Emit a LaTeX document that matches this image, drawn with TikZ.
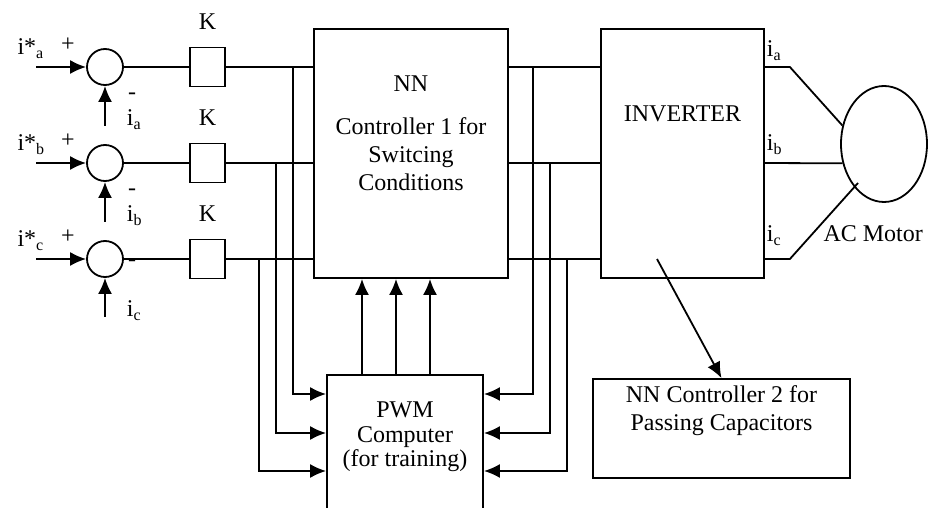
\documentclass[tikz,border=0pt]{standalone}
\usepackage{fontspec}
\setmainfont{Liberation Serif}
\usetikzlibrary{arrows.meta,positioning,shapes.geometric,calc}

\begin{document}
\begin{tikzpicture}[x=0.5pt,y=-0.5pt,
		font=\fontsize{12pt}{13.8pt}\selectfont,
		line width=0.9pt,
		sum/.style={circle,draw,minimum size=18pt,inner sep=0pt},
		gain/.style={rectangle,draw,minimum width=17.5pt,minimum height=19.5pt,inner sep=0pt},
		block/.style={rectangle,draw,inner sep=0pt},
		arr/.style={-{Latex[length=8pt,width=7pt]}}]
		\useasboundingbox (0,0) rectangle (928,508);
		\clip (0,0) rectangle (928,508);
		% summing points and gains
		\node[sum] (sa) at (105,67) {};
		\node[sum] (sb) at (105,163) {};
		\node[sum] (sc) at (105,259) {};
		\node[gain] (ka) at (207.5,67) {};
		\node[gain] (kb) at (207.5,163) {};
		\node[gain] (kc) at (207.5,259) {};
		\node[anchor=base] (lka) at (207.5,30) {K};
		\node[anchor=base] (lkb) at (207.5,126) {K};
		\node[anchor=base] (lkc) at (207.5,222) {K};
		% blocks
		\node[block,minimum width=97pt,minimum height=124.5pt] (nn1) at (411,153.5) {};
		\node[align=center,below=20pt of nn1.north] (nn1txt) {NN\\[8pt]Controller 1 for\\Switcing\\Conditions};
		\node[block,minimum width=81.5pt,minimum height=124.5pt] (inv) at (682.5,153.5) {};
		\node[below=35pt of inv.north] (invtxt) {INVERTER};
		\node[ellipse,draw,minimum width=43pt,minimum height=58pt,inner sep=0pt] (motor) at (884,144) {};
		\node[anchor=base west] (mtxt) at (816,242) {AC Motor};
		\node[block,minimum width=78pt,minimum height=80pt,anchor=north] (pwm) at (405,374) {};
		\node[align=center,font=\fontsize{12pt}{12.3pt}\selectfont] (pwmtxt) at (405,437) {PWM\\Computer\\(for training)};
		\node[block,minimum width=128.5pt,minimum height=49.5pt] (nn2) at (721.5,428.5) {};
		\node[align=center,below=0pt of nn2.north] (nn2txt) {NN Controller 2 for\\Passing Capacitors};
		% input labels
		\node[anchor=base west] (sta) at (10,55) {i*\textsubscript{a}};
		\node[anchor=base west] (stb) at (10,151) {i*\textsubscript{b}};
		\node[anchor=base west] (stc) at (10,247) {i*\textsubscript{c}};
		\node (pa) at (68,45) {+};
		\node (pb) at (68,141) {+};
		\node (pc) at (68,237) {+};
		\node (ma) at (132,96) {-};
		\node (mb) at (132,192) {-};
		\node (mc) at (132,263) {-};
		\node[anchor=base west,inner sep=0pt] (fba) at (126,126) {i\textsubscript{a}};
		\node[anchor=base west,inner sep=0pt] (fbb) at (126,222) {i\textsubscript{b}};
		\node[anchor=base west,inner sep=0pt] (fbc) at (126,317) {i\textsubscript{c}};
		\node[anchor=base west,inner sep=0pt] (oa) at (766,57) {i\textsubscript{a}};
		\node[anchor=base west,inner sep=0pt] (ob) at (766,151) {i\textsubscript{b}};
		\node[anchor=base west,inner sep=0pt] (oc) at (766,242) {i\textsubscript{c}};
		% free ends and branch points
		\coordinate (ina) at (36,67);
		\coordinate (inb) at (36,163);
		\coordinate (inc) at (36,259);
		\coordinate (fa) at (105,126);
		\coordinate (fb) at (105,222);
		\coordinate (fc) at (105,317);
		\coordinate (la) at (293,67);
		\coordinate (lb) at (276,163);
		\coordinate (lc) at (259,259);
		\coordinate (ra) at (533,67);
		\coordinate (rb) at (550,163);
		\coordinate (rc) at (567,259);
		\coordinate (u1) at (362,374);
		\coordinate (u2) at (396,374);
		\coordinate (u3) at (430,374);
		\coordinate (sw) at (657,259);
		% connectors
		\draw[arr] (ina) -- (sa);
		\draw[arr] (inb) -- (sb);
		\draw[arr] (inc) -- (sc);
		\draw[arr] (fa) -- (sa);
		\draw[arr] (fb) -- (sb);
		\draw[arr] (fc) -- (sc);
		\draw (sa) -- (ka) (ka) -- (ka -| nn1.west);
		\draw (sb) -- (kb) (kb) -- (kb -| nn1.west);
		\draw (sc) -- (kc) (kc) -- (kc -| nn1.west);
		\draw (nn1.east |- ka) -- (inv.west |- ka);
		\draw (nn1.east |- kb) -- (inv.west |- kb);
		\draw (nn1.east |- kc) -- (inv.west |- kc);
		\draw[arr] (la) |- ($(pwm.north west)+(0,20)$);
		\draw[arr] (lb) |- ($(pwm.north west)+(0,59)$);
		\draw[arr] (lc) |- ($(pwm.north west)+(0,97)$);
		\draw[arr] (ra) |- ($(pwm.north east)+(0,20)$);
		\draw[arr] (rb) |- ($(pwm.north east)+(0,59)$);
		\draw[arr] (rc) |- ($(pwm.north east)+(0,97)$);
		\draw[arr] (u1) -- (u1 |- nn1.south);
		\draw[arr] (u2) -- (u2 |- nn1.south);
		\draw[arr] (u3) -- (u3 |- nn1.south);
		\draw (inv.east |- ka) -- ++(25,0) -- (motor.156);
		\draw (inv.east |- kb) -- (motor.205);
		\draw (inv.east |- kc) -- ++(25,0) -- ($(motor.center)+(-26,39)$);
		\draw[arr] (sw) -- (nn2.north);
	\end{tikzpicture}
\end{document}
